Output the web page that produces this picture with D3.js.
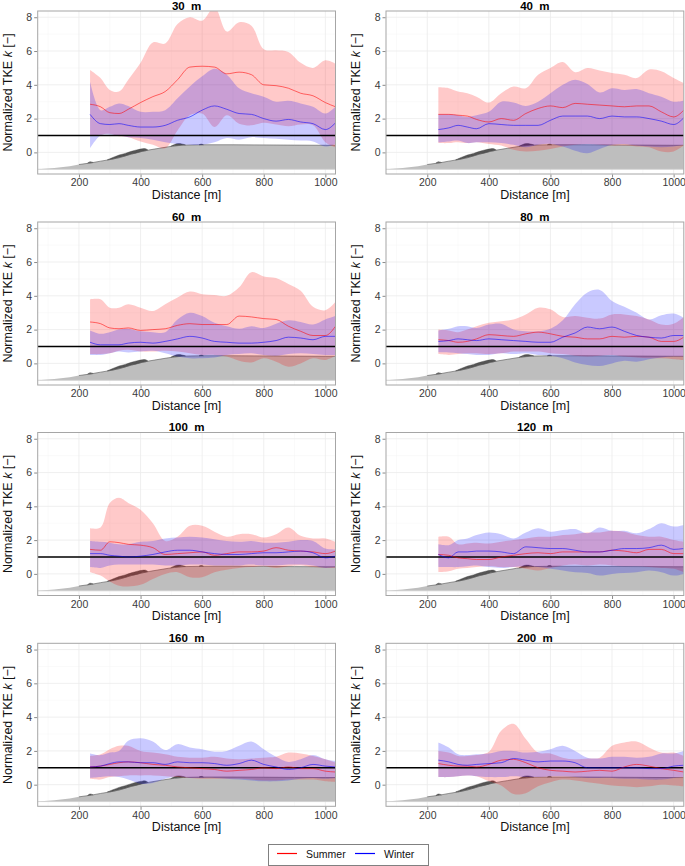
<!DOCTYPE html>
<html><head><meta charset="utf-8">
<script src="https://cdn.jsdelivr.net/npm/d3@7"></script>
<style>body{margin:0;background:#fff}svg{display:block;font-family:"Liberation Sans",Arial,sans-serif}</style>
</head><body>
<script>
// ---------------- DATA ----------------
const heights = ["30", "40", "60", "80", "100", "120", "160", "200"];
const distance = [236, 270, 300, 330, 360, 400, 440, 480, 520, 560, 600, 640, 680, 720, 760, 800, 840, 880, 920, 960, 1000, 1033];
const xTicks = [200, 400, 600, 800, 1000];
const yTicks = [0, 2, 4, 6, 8];
const refLevel = 1;

const summerMean = [
  [2.85,2.7,2.35,2.3,2.55,2.95,3.3,3.6,4.3,5.05,5.1,5.05,4.65,4.75,4.6,4.0,3.95,3.8,3.5,3.35,2.95,2.7],
  [2.25,2.25,2.2,2.15,1.95,1.8,2.0,1.9,2.3,2.6,2.75,2.65,2.9,2.85,2.8,2.75,2.7,2.75,2.75,2.4,2.1,2.5],
  [2.45,2.35,2.1,2.05,2.1,1.95,2.0,2.05,2.25,2.35,2.3,2.3,2.3,2.8,2.75,2.65,2.6,2.2,1.9,1.65,1.65,2.2],
  [1.4,1.35,1.25,1.3,1.45,1.7,1.65,1.6,1.75,1.85,1.75,1.6,1.55,1.45,1.45,1.6,1.55,1.6,1.55,1.3,1.3,1.55],
  [1.45,1.4,1.9,1.85,1.75,1.7,1.55,1.15,1.2,1.25,1.3,1.1,1.2,1.3,1.3,1.35,1.55,1.4,1.35,1.3,1.2,1.35],
  [1.15,1.1,0.95,0.9,0.85,0.85,1.0,1.1,1.2,1.25,1.2,1.3,1.3,1.3,1.3,1.4,1.35,1.25,1.45,1.45,1.2,1.2],
  [1.05,1.1,1.2,1.3,1.35,1.3,1.2,1.15,1.05,1.0,0.95,0.9,0.8,0.85,0.9,1.0,0.95,1.05,0.95,0.95,0.8,0.75],
  [1.25,1.15,1.1,1.1,1.05,1.2,1.45,1.5,1.3,1.0,0.85,0.8,0.75,0.8,0.85,0.8,1.05,1.2,1.1,0.95,0.85,0.75]
];
const summerLow = [
  [1.0,1.05,1.1,0.95,0.9,0.65,0.45,0.25,1.3,2.2,2.3,1.5,2.2,1.7,1.6,1.75,1.65,1.55,1.65,1.6,0.6,0.3],
  [0.55,0.55,0.6,0.55,0.6,0.5,0.4,0.15,0.05,0.1,0.2,0.35,0.45,0.5,0.45,0.4,0.4,0.35,0.3,0.05,0.05,0.4],
  [0.55,0.55,0.6,0.75,0.8,0.7,0.7,0.75,0.7,0.6,0.5,0.5,0.4,0.15,0.05,0.3,0.1,-0.2,0.0,0.3,0.2,0.45],
  [0.55,0.5,0.55,0.6,0.6,0.55,0.6,0.7,0.7,0.7,0.6,0.55,0.45,0.4,0.45,0.5,0.4,0.35,0.3,0.3,0.25,0.2],
  [0.1,-0.1,-0.45,-0.7,-0.75,-0.65,-0.3,0.0,0.1,-0.2,-0.2,0.1,0.25,0.35,0.4,0.45,0.35,0.45,0.5,0.4,0.35,0.35],
  [0.1,0.15,0.3,0.35,0.4,0.45,0.4,0.4,0.3,0.2,0.35,0.5,0.55,0.5,0.55,0.5,0.45,0.45,0.4,0.35,0.3,0.1],
  [0.35,0.3,0.45,0.5,0.55,0.55,0.55,0.5,0.45,0.4,0.35,0.35,0.35,0.35,0.3,0.25,0.25,0.3,0.3,0.3,0.2,0.15],
  [0.45,0.45,0.5,0.55,0.5,0.2,-0.05,-0.55,-0.5,-0.1,0.15,0.3,0.25,0.15,0.05,-0.05,-0.1,-0.15,-0.1,0.0,-0.05,-0.1]
];
const summerHigh = [
  [4.88,4.4,3.7,3.6,4.3,5.3,6.5,6.45,7.6,8.0,7.8,8.6,7.15,7.7,7.5,6.1,6.05,5.95,5.3,5.0,5.45,5.25],
  [3.85,3.8,3.6,3.5,3.3,2.95,3.5,3.9,3.8,4.6,5.0,5.35,4.75,5.0,4.85,4.7,4.6,4.4,4.9,4.8,4.4,4.1],
  [3.8,3.8,3.3,3.3,3.5,3.3,3.1,3.5,3.9,4.25,4.1,4.05,4.0,4.5,5.4,5.15,5.05,4.7,4.3,3.35,3.15,3.65],
  [2.0,1.95,1.85,2.0,2.2,2.4,2.5,2.6,2.9,3.3,3.2,2.75,2.8,2.7,2.65,2.9,2.9,2.8,2.6,2.3,2.35,2.75],
  [2.7,2.75,4.2,4.5,4.2,3.8,3.0,1.95,2.2,2.85,2.85,2.5,2.2,2.35,2.35,2.15,2.35,2.75,2.25,2.1,2.1,1.9],
  [2.2,2.2,1.75,1.8,1.85,1.8,1.9,2.0,2.1,2.2,2.2,2.3,2.35,2.45,2.45,2.55,2.5,2.3,2.2,2.2,2.0,1.9],
  [1.7,1.8,2.1,2.3,2.3,2.0,1.9,1.8,1.65,1.6,1.6,1.65,1.55,1.5,1.55,1.6,1.65,1.9,1.85,1.7,1.5,1.3],
  [2.0,1.9,1.7,1.7,1.75,1.95,3.2,3.6,2.7,1.9,1.85,1.6,1.5,1.55,1.6,2.3,2.5,2.55,2.2,1.9,1.9,1.7]
];
const winterMean = [
  [2.25,1.7,1.65,1.7,1.6,1.5,1.5,1.6,1.9,2.1,2.5,2.75,2.55,2.3,2.25,2.0,1.85,1.95,1.8,1.7,1.35,1.75],
  [1.35,1.45,1.6,1.5,1.4,1.7,1.65,1.6,1.6,1.6,1.9,2.15,2.15,2.15,2.0,2.15,2.1,2.1,2.0,1.85,1.65,2.05],
  [1.25,1.1,1.1,1.1,1.2,1.25,1.2,1.3,1.45,1.6,1.5,1.3,1.25,1.2,1.2,1.25,1.35,1.55,1.5,1.4,1.6,1.6],
  [1.3,1.35,1.45,1.4,1.35,1.45,1.4,1.35,1.3,1.25,1.25,1.55,1.8,2.15,2.05,2.15,1.9,1.65,1.55,1.5,1.65,1.65],
  [1.2,1.2,1.1,1.05,1.0,1.05,1.15,1.3,1.4,1.4,1.3,1.2,1.15,1.15,1.2,1.25,1.25,1.3,1.35,1.25,0.95,1.05],
  [1.15,0.95,1.3,1.3,1.35,1.35,1.3,1.2,1.6,1.55,1.5,1.5,1.4,1.3,1.3,1.4,1.5,1.5,1.55,1.7,1.45,1.5],
  [1.05,1.1,1.25,1.35,1.35,1.3,1.3,1.2,1.35,1.3,1.3,1.25,1.15,1.25,1.45,1.2,1.05,0.9,1.0,1.2,1.1,1.05],
  [1.45,1.35,1.2,1.15,1.2,1.25,1.3,1.55,1.45,1.35,1.4,1.4,1.3,1.0,1.0,1.0,1.0,1.0,0.95,0.95,1.1,1.15]
];
const winterLow = [
  [0.25,1.0,1.05,1.0,0.9,0.85,0.75,0.6,0.5,0.45,0.45,0.6,0.85,0.75,0.9,0.85,0.8,0.75,0.7,0.65,0.35,0.5],
  [0.6,0.65,0.7,0.55,0.6,0.6,0.55,0.45,0.3,0.45,0.5,0.35,0.1,-0.05,0.2,0.45,0.5,0.4,0.35,0.3,0.35,0.45],
  [0.5,0.5,0.6,0.7,0.65,0.7,0.75,0.6,0.4,0.3,0.3,0.35,0.5,0.55,0.6,0.5,0.45,0.55,0.6,0.55,0.5,0.5],
  [0.65,0.65,0.6,0.55,0.5,0.5,0.6,0.55,0.6,0.5,0.45,0.3,0.05,-0.1,-0.15,0.0,0.15,0.1,0.25,0.35,0.4,0.4],
  [0.4,0.35,0.5,0.55,0.55,0.55,0.55,0.5,0.5,0.55,0.55,0.5,0.5,0.5,0.55,0.5,0.5,0.55,0.55,0.5,0.35,0.4],
  [0.4,0.4,0.4,0.45,0.5,0.4,0.35,0.4,0.45,0.4,0.3,0.2,0.1,0.05,-0.1,0.0,0.05,0.1,0.2,0.1,-0.1,0.0],
  [0.4,0.45,0.5,0.45,0.3,0.05,0.1,0.35,0.5,0.4,0.4,0.4,0.35,0.3,0.25,0.2,0.2,0.25,0.35,0.4,0.35,0.4],
  [0.45,0.45,0.5,0.55,0.5,0.45,0.45,0.5,0.45,0.45,0.5,0.5,0.45,0.4,0.4,0.4,0.35,0.35,0.3,0.3,0.4,0.45]
];
const winterHigh = [
  [4.2,2.5,2.7,2.9,2.75,2.4,2.4,2.5,3.2,3.9,4.5,4.95,4.6,3.8,3.5,3.3,3.0,3.05,2.9,2.7,2.3,2.7],
  [2.25,2.25,2.2,2.1,2.2,2.4,3.0,2.95,2.75,3.0,3.5,4.0,4.3,4.05,3.55,3.8,3.7,3.75,3.5,3.3,3.0,3.05],
  [1.95,1.75,1.85,2.0,2.05,1.9,1.85,1.85,2.6,3.0,2.8,2.4,2.2,2.05,2.2,2.1,2.35,2.55,2.45,2.3,2.6,2.8],
  [1.95,2.05,2.2,2.2,2.1,2.3,2.35,2.0,1.9,1.9,2.05,2.55,3.5,4.2,4.35,3.7,3.35,3.0,2.6,2.85,2.95,2.7],
  [1.95,1.9,1.85,1.75,1.75,1.9,1.95,2.1,2.15,2.2,2.15,2.05,1.95,1.9,1.95,1.85,1.85,1.9,2.0,1.95,1.5,1.45],
  [1.75,1.7,2.0,2.1,2.3,2.45,2.35,2.1,2.45,2.7,2.5,2.6,2.65,2.4,2.75,2.55,2.55,2.4,2.65,3.0,2.8,2.9],
  [1.85,1.75,1.9,2.0,2.6,2.75,2.55,2.05,2.4,2.2,2.1,1.95,2.0,2.3,2.55,2.1,1.65,1.35,1.5,1.75,1.5,1.4],
  [2.5,2.2,1.8,1.75,1.8,1.85,2.0,2.0,1.9,1.95,2.1,2.3,2.0,1.6,1.55,1.65,1.65,1.6,1.65,1.85,1.85,2.0]
];

// terrain profile (same in every panel)
const terrainX = [66, 120, 170, 200, 240, 270, 300, 330, 366, 400, 430, 460, 490, 510, 540, 600, 700, 800, 900, 1000, 1033];
const terrainY = [-1.0, -0.92, -0.82, -0.72, -0.62, -0.52, -0.43, -0.32, -0.12, 0.04, 0.15, 0.24, 0.33, 0.38, 0.43, 0.45, 0.45, 0.44, 0.43, 0.42, 0.42];
const terrainBase = -1;
// canopy (dark) patches: x, top, bottom
const canopyX   = [[228, 236, 246], [292, 310, 330, 350, 370, 390, 405, 416, 424], [498, 510, 522, 534, 546], [590, 597, 604]];
const canopyTop = [[-0.64, -0.55, -0.6], [-0.44, -0.3, -0.16, -0.06, 0.06, 0.16, 0.21, 0.22, 0.14], [0.36, 0.47, 0.52, 0.5, 0.44], [0.45, 0.49, 0.45]];
const canopyBot = [[-0.64, -0.62, -0.6], [-0.44, -0.39, -0.3, -0.21, -0.1, -0.02, 0.06, 0.1, 0.14], [0.36, 0.39, 0.41, 0.43, 0.44], [0.45, 0.45, 0.45]];

// ---------------- LAYOUT ----------------
const W = 685, H = 866;
const colLeft = [37.7, 386];
const panelW = 297.8;
const rowTop = [11, 222, 432.5, 643.3];
const panelH = 163;
const xDomain = [66, 1033];
const yDomain = [-1.28, 8.37];

const svg = d3.select("body").append("svg").attr("width", W).attr("height", H);
const defs = svg.append("defs");

const fontTick = 10.5;

heights.forEach((h, i) => {
  const col = i % 2, row = Math.floor(i / 2);
  const L = colLeft[col], T = rowTop[row];
  const x = d3.scaleLinear().domain(xDomain).range([L, L + panelW]);
  const y = d3.scaleLinear().domain(yDomain).range([T + panelH, T]);
  const g = svg.append("g");

  const clipId = "clip" + i;
  defs.append("clipPath").attr("id", clipId).append("rect")
    .attr("x", L).attr("y", T).attr("width", panelW).attr("height", panelH);
  const pg = g.append("g").attr("clip-path", `url(#${clipId})`);

  // grid
  [100, 300, 500, 700, 900].forEach(v => pg.append("line").attr("x1", x(v)).attr("x2", x(v)).attr("y1", T).attr("y2", T + panelH).attr("stroke", "#f4f4f4").attr("stroke-width", 0.5));
  [-1, 1, 3, 5, 7].forEach(v => pg.append("line").attr("y1", y(v)).attr("y2", y(v)).attr("x1", L).attr("x2", L + panelW).attr("stroke", "#f4f4f4").attr("stroke-width", 0.5));
  xTicks.forEach(v => pg.append("line").attr("x1", x(v)).attr("x2", x(v)).attr("y1", T).attr("y2", T + panelH).attr("stroke", "#ebebeb").attr("stroke-width", 0.8));
  yTicks.forEach(v => pg.append("line").attr("y1", y(v)).attr("y2", y(v)).attr("x1", L).attr("x2", L + panelW).attr("stroke", "#ebebeb").attr("stroke-width", 0.8));

  // terrain
  const tIdx = d3.range(terrainX.length);
  pg.append("path").datum(tIdx)
    .attr("d", d3.area().x(k => x(terrainX[k])).y0(y(terrainBase)).y1(k => y(terrainY[k])))
    .attr("fill", "#bebebe");
  pg.append("line").attr("x1", L).attr("x2", L + panelW).attr("y1", y(terrainBase)).attr("y2", y(terrainBase))
    .attr("stroke", "#cfcfcf").attr("stroke-width", 0.8);
  canopyX.forEach((cx, c) => {
    const idx = d3.range(cx.length);
    pg.append("path").datum(idx)
      .attr("d", d3.area().x(k => x(cx[k])).y0(k => y(canopyBot[c][k])).y1(k => y(canopyTop[c][k])).curve(d3.curveCatmullRom))
      .attr("fill", "#555").attr("stroke", "#444").attr("stroke-width", 0.4);
  });
  pg.append("path").datum(tIdx.filter(k => terrainX[k] >= 200))
    .attr("d", d3.line().x(k => x(terrainX[k])).y(k => y(terrainY[k])))
    .attr("fill", "none").attr("stroke", "#555").attr("stroke-width", 0.6);

  // bands
  const idx = d3.range(distance.length);
  const band = (lo, hi) => d3.area().x(k => x(distance[k])).y0(k => y(lo[k])).y1(k => y(hi[k])).curve(d3.curveCatmullRom.alpha(0.5));
  pg.append("path").datum(idx).attr("d", band(summerLow[i], summerHigh[i])).attr("fill", "rgb(255,0,0)").attr("fill-opacity", 0.21);
  pg.append("path").datum(idx).attr("d", band(winterLow[i], winterHigh[i])).attr("fill", "rgb(0,0,255)").attr("fill-opacity", 0.21);

  // reference line
  pg.append("line").attr("x1", L).attr("x2", L + panelW).attr("y1", y(refLevel)).attr("y2", y(refLevel))
    .attr("stroke", "#000").attr("stroke-width", 1.6);

  // mean lines
  const line = arr => d3.line().x(k => x(distance[k])).y(k => y(arr[k])).curve(d3.curveMonotoneX);
  pg.append("path").datum(idx).attr("d", line(summerMean[i])).attr("fill", "none").attr("stroke", "#ff0000").attr("stroke-width", 0.55);
  pg.append("path").datum(idx).attr("d", line(winterMean[i])).attr("fill", "none").attr("stroke", "#0000ff").attr("stroke-width", 0.55);

  // border
  g.append("rect").attr("x", L).attr("y", T).attr("width", panelW).attr("height", panelH)
    .attr("fill", "none").attr("stroke", "#a6a6a6").attr("stroke-width", 1);

  // axes
  const ax = g.append("g").attr("transform", `translate(0,${T + panelH + 0.5})`)
    .call(d3.axisBottom(x).tickValues(xTicks).tickFormat(d3.format("d")).tickSize(3).tickPadding(1.5));
  const ay = g.append("g").attr("transform", `translate(${L - 0.5},0)`)
    .call(d3.axisLeft(y).tickValues(yTicks).tickSize(3).tickPadding(2));
  [ax, ay].forEach(a => {
    a.select(".domain").remove();
    a.selectAll("line").attr("stroke", "#8a8a8a");
    a.selectAll("text").attr("fill", "#3a3a3a").style("font-size", fontTick + "px").style("font-family", '"Liberation Sans",Arial,sans-serif');
  });

  // title
  g.append("text").attr("x", L + panelW / 2).attr("y", T - 1.3)
    .attr("text-anchor", "middle").style("font-size", "11.5px").style("font-weight", "bold")
    .style("white-space", "pre").attr("xml:space", "preserve")
    .text(`${h}  m`);

  // x title
  g.append("text").attr("x", L + panelW / 2).attr("y", T + panelH + 24.5)
    .attr("text-anchor", "middle").style("font-size", "12.5px").attr("fill", "#111")
    .text("Distance [m]");

  // y title
  const yt = g.append("text")
    .attr("transform", `translate(${L - 26},${T + panelH / 2}) rotate(-90)`)
    .attr("text-anchor", "middle").style("font-size", "12.5px").attr("fill", "#111");
  yt.append("tspan").text("Normalized TKE ");
  yt.append("tspan").style("font-style", "italic").text("k");
  yt.append("tspan").text(" [−]");
});

// ---------------- LEGEND ----------------
const legendKeys = ["Summer", "Winter"];
const legendColors = ["#ff0000", "#0000ff"];
const lg = svg.append("g");
lg.append("rect").attr("x", 268.5).attr("y", 844.5).attr("width", 160).attr("height", 21)
  .attr("fill", "#fff").attr("stroke", "#808080").attr("stroke-width", 1);
const legendX = [277, 355];
legendKeys.forEach((k, j) => {
  lg.append("line").attr("x1", legendX[j]).attr("x2", legendX[j] + 20).attr("y1", 853.5).attr("y2", 853.5)
    .attr("stroke", legendColors[j]).attr("stroke-width", 1.2);
  lg.append("text").attr("x", legendX[j] + 29).attr("y", 857.5).style("font-size", "10.5px").attr("fill", "#111").text(k);
});
</script>
</body></html>
